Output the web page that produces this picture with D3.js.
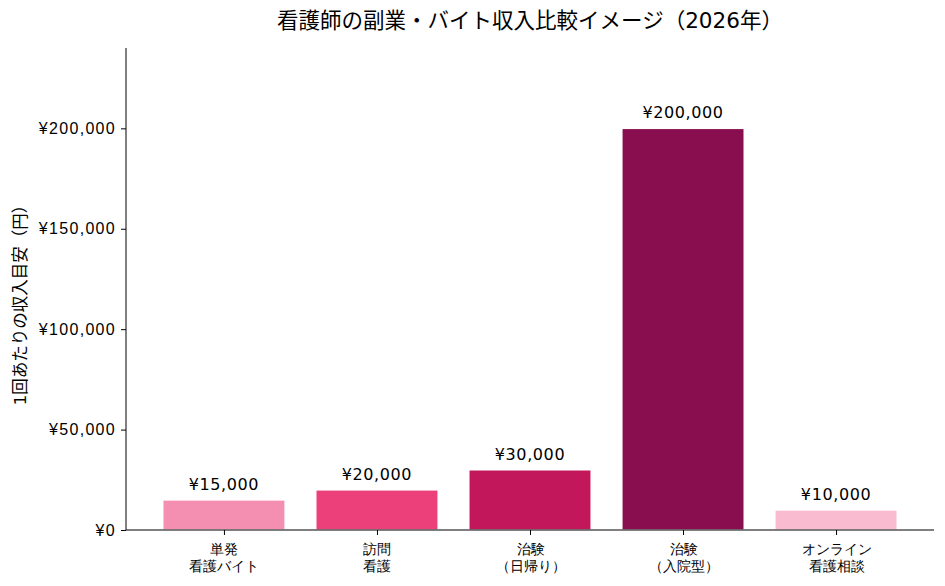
<!DOCTYPE html>
<html lang="ja">
<head>
<meta charset="UTF-8">
<title>看護師の副業・バイト収入比較イメージ</title>
<script src="https://d3js.org/d3.v7.min.js"></script>
<style>
  body { margin: 0; background: #fff; }
  svg { display: block; font-family: "DejaVu Sans", "Noto Sans CJK JP", sans-serif; }
  .tick text { fill: #000; }
</style>
</head>
<body>
<script>
// data
const categories = ["単発\n看護バイト", "訪問\n看護", "治験\n（日帰り）", "治験\n（入院型）", "オンライン\n看護相談"];
const values = [15000, 20000, 30000, 200000, 10000];
const colors = ["#f48fb1", "#ec407a", "#c2185b", "#880e4f", "#f8bbd0"];
const yTicks = [0, 50000, 100000, 150000, 200000];

const W = 945, H = 586;
const margin = { left: 126, right: 11, top: 48, bottom: 56 };
const innerW = W - margin.left - margin.right;
const innerH = H - margin.top - margin.bottom;

const svg = d3.select("body").append("svg")
  .attr("width", W)
  .attr("height", H);

const g = svg.append("g")
  .attr("transform", `translate(${margin.left},${margin.top})`);

// x as continuous index, like matplotlib bar positions
const x = d3.scaleLinear()
  .domain([-0.64, categories.length - 1 + 0.64])
  .range([0, innerW]);
const barW = x(0.4) - x(-0.4);

const y = d3.scaleLinear()
  .domain([0, 240000])
  .range([innerH, 0]);

const yen = d => "¥" + d3.format(",")(d);

// bars
g.selectAll(".bar")
  .data(values)
  .enter().append("rect")
  .attr("class", "bar")
  .attr("x", (d, i) => x(i) - barW / 2)
  .attr("y", d => y(d))
  .attr("width", barW)
  .attr("height", d => innerH - y(d))
  .attr("fill", (d, i) => colors[i])
  .attr("stroke", "#fff")
  .attr("stroke-width", 1.5);

// value labels
g.selectAll(".val")
  .data(values)
  .enter().append("text")
  .attr("class", "val")
  .attr("x", (d, i) => x(i))
  .attr("y", d => y(d) - 10)
  .attr("text-anchor", "middle")
  .attr("font-size", 16)
  .attr("letter-spacing", 0.6)
  .text(yen);

// y axis
const yAxis = g.append("g")
  .call(d3.axisLeft(y).tickValues(yTicks).tickFormat(yen).tickSize(5).tickPadding(5));
yAxis.select(".domain").attr("stroke", "#000").attr("d", `M0,${innerH}V0`);
yAxis.selectAll(".tick line").attr("stroke", "#000");
yAxis.selectAll(".tick text").attr("font-size", 16).attr("letter-spacing", 1.3);

// x axis
const xAxis = g.append("g")
  .attr("transform", `translate(0,${innerH})`)
  .call(d3.axisBottom(x).tickValues(d3.range(categories.length)).tickFormat(() => "").tickSize(5));
xAxis.select(".domain").attr("stroke", "#000").attr("d", `M0,0H${innerW}`);
xAxis.selectAll(".tick line").attr("stroke", "#000");
xAxis.selectAll(".tick").each(function (d) {
  const lines = categories[d].split("\n");
  const t = d3.select(this).append("text")
    .attr("text-anchor", "middle")
    .attr("font-size", 14)
    .attr("fill", "#000");
  lines.forEach((s, k) => {
    t.append("tspan").attr("x", 0).attr("y", 24 + k * 17).text(s);
  });
});

// y label
svg.append("text")
  .attr("transform", `translate(26,${margin.top + innerH / 2 + 12}) rotate(-90)`)
  .attr("text-anchor", "middle")
  .attr("font-size", 16.5)
  .text("1回あたりの収入目安（円）");

// title
svg.append("text")
  .attr("x", margin.left + innerW / 2)
  .attr("y", 28)
  .attr("text-anchor", "middle")
  .attr("font-size", 21.5)
  .text("看護師の副業・バイト収入比較イメージ（2026年）");
</script>
</body>
</html>
